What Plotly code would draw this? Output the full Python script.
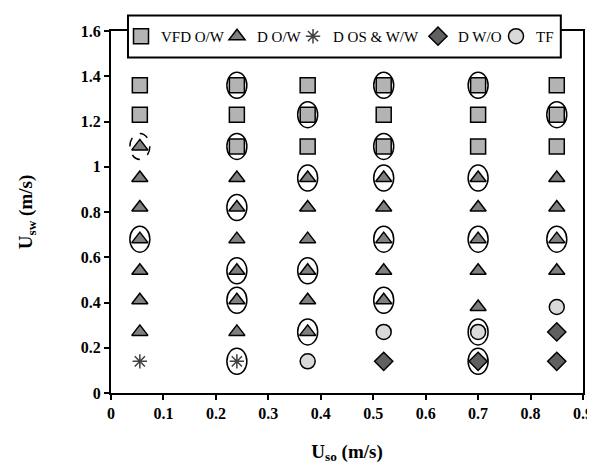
import plotly.graph_objects as go

# Flow-pattern map: U_so (x) vs U_sw (y)
vfd_x = [0.055, 0.055, 0.24, 0.24, 0.24, 0.375, 0.375, 0.375, 0.52, 0.52, 0.52,
         0.70, 0.70, 0.70, 0.85, 0.85, 0.85]
vfd_y = [1.36, 1.23, 1.36, 1.23, 1.09, 1.36, 1.23, 1.09, 1.36, 1.23, 1.09,
         1.36, 1.23, 1.09, 1.36, 1.23, 1.09]

dow_x = [0.055] * 7 + [0.24] * 6 + [0.375] * 6 + [0.52] * 5 + [0.70] * 5 + [0.85] * 4
dow_y = [1.09, 0.95, 0.82, 0.68, 0.54, 0.41, 0.27,
         0.95, 0.82, 0.68, 0.54, 0.41, 0.27,
         0.95, 0.82, 0.68, 0.54, 0.41, 0.27,
         0.95, 0.82, 0.68, 0.54, 0.41,
         0.95, 0.82, 0.68, 0.54, 0.38,
         0.95, 0.82, 0.68, 0.54]

dos_x = [0.055, 0.24]
dos_y = [0.14, 0.14]

dwo_x = [0.52, 0.70, 0.85, 0.85]
dwo_y = [0.14, 0.14, 0.27, 0.14]

tf_x = [0.375, 0.52, 0.70, 0.85]
tf_y = [0.14, 0.27, 0.27, 0.38]

# points marked with a ring
ring_x = [0.055,
          0.24, 0.24, 0.24, 0.24, 0.24, 0.24,
          0.375, 0.375, 0.375, 0.375,
          0.52, 0.52, 0.52, 0.52, 0.52,
          0.70, 0.70, 0.70, 0.70, 0.70,
          0.85, 0.85]
ring_y = [0.68,
          1.36, 1.09, 0.82, 0.54, 0.41, 0.14,
          1.23, 0.95, 0.54, 0.27,
          1.36, 1.09, 0.95, 0.68, 0.41,
          1.36, 0.95, 0.68, 0.27, 0.14,
          1.23, 0.68]
dashed_x = [0.055]
dashed_y = [1.09]

x_ticks = [0, 0.1, 0.2, 0.3, 0.4, 0.5, 0.6, 0.7, 0.8, 0.9]
x_labels = ["0", "0.1", "0.2", "0.3", "0.4", "0.5", "0.6", "0.7", "0.8", "0.9"]
y_ticks = [0, 0.2, 0.4, 0.6, 0.8, 1.0, 1.2, 1.4, 1.6]
y_labels = ["0", "0.2", "0.4", "0.6", "0.8", "1", "1.2", "1.4", "1.6"]

FONT = "Liberation Serif"

# one legend per series so the entries sit in a single tight row
legend_pos = [0.0212, 0.2246, 0.3856, 0.6504, 0.8157]

series = [
    ("VFD O/W", vfd_x, vfd_y, dict(symbol="square", size=15, color="#b3b3b3",
                                    line=dict(color="black", width=1.5))),
    ("D O/W", dow_x, dow_y, dict(symbol="triangle-up", size=14, color="#808080",
                                  line=dict(color="black", width=1.5))),
    ("D OS & W/W", dos_x, dos_y, dict(symbol="asterisk-open", size=12, color="#404040",
                                       line=dict(color="#404040", width=1.5))),
    ("D W/O", dwo_x, dwo_y, dict(symbol="diamond", size=14, color="#606060",
                                  line=dict(color="black", width=1.5))),
    ("TF", tf_x, tf_y, dict(symbol="circle", size=15, color="#d9d9d9",
                             line=dict(color="black", width=1.5))),
]

fig = go.Figure()
legends = {}
for i, (name, xs, ys, mk) in enumerate(series):
    lg = "legend" if i == 0 else f"legend{i + 1}"
    fig.add_trace(go.Scatter(x=xs, y=ys, mode="markers", name=name,
                             marker=mk, legend=lg))
    legends[lg] = dict(
        x=legend_pos[i], y=0.985, xanchor="left", yanchor="middle",
        orientation="h", bgcolor="rgba(0,0,0,0)", borderwidth=0,
        font=dict(family=FONT, size=15, color="black"),
        itemwidth=30,
    )

shapes = []
# legend frame
shapes.append(dict(type="rect", xref="paper", yref="paper",
                   x0=0.036, x1=0.953, y0=0.927, y1=1.043, layer="above",
                   fillcolor="white", line=dict(color="black", width=2)))
# rings drawn as pixel-sized ellipses anchored on the data points
for xv, yv in zip(ring_x, ring_y):
    shapes.append(dict(type="circle", xref="x", yref="y",
                       xsizemode="pixel", ysizemode="pixel",
                       xanchor=xv, yanchor=yv, x0=-10, x1=10, y0=-13, y1=13,
                       line=dict(color="black", width=1.5)))
for xv, yv in zip(dashed_x, dashed_y):
    shapes.append(dict(type="circle", xref="x", yref="y",
                       xsizemode="pixel", ysizemode="pixel",
                       xanchor=xv, yanchor=yv, x0=-10, x1=10, y0=-13, y1=13,
                       line=dict(color="black", width=1.5, dash="dash")))

tick_font = dict(family=FONT, size=16, color="black")

fig.update_layout(
    width=595, height=470,
    # the page body adds an 8 px offset, so margins are shifted to compensate
    margin=dict(l=103, r=20, t=16, b=85),
    plot_bgcolor="white", paper_bgcolor="white",
    font=dict(family=FONT, size=16, color="black"),
    shapes=shapes,
    showlegend=True,
    xaxis=dict(
        range=[0, 0.9], tickvals=x_ticks,
        ticktext=[f"<b>{t}</b>" for t in x_labels],
        showgrid=False, zeroline=False, automargin=False,
        showline=True, linecolor="black", linewidth=2, mirror=True,
        ticks="outside", ticklen=5, tickwidth=2, tickcolor="black",
        tickfont=tick_font,
        title=dict(text="<b>U<sub>so</sub> (m/s)</b>", standoff=23),
    ),
    yaxis=dict(
        range=[0, 1.6], tickvals=y_ticks,
        ticktext=[f"<b>{t}</b>" for t in y_labels],
        showgrid=False, zeroline=False, automargin=False,
        showline=True, linecolor="black", linewidth=2, mirror=True,
        ticks="outside", ticklen=5, tickwidth=2, tickcolor="black",
        tickfont=tick_font,
        title=dict(text="<b>U<sub>sw</sub> (m/s)</b>", standoff=43),
    ),
    **legends,
)

fig.write_html("out.html")
